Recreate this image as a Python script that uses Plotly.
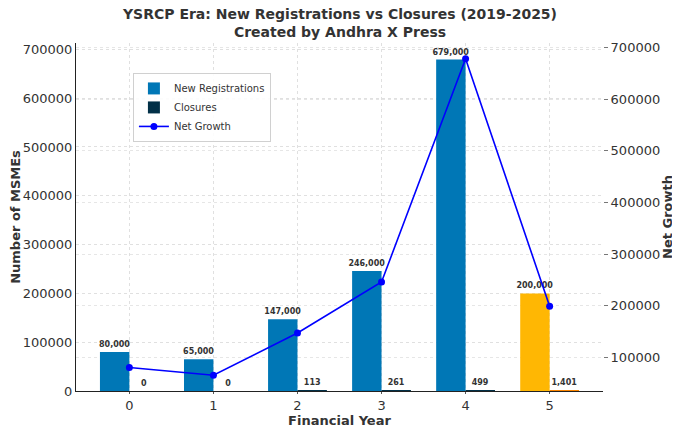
import plotly.graph_objects as go

# Chart data
years = [0, 1, 2, 3, 4, 5]
new_registrations = [80000, 65000, 147000, 246000, 679000, 200000]
closures = [0, 0, 113, 261, 499, 1401]
net_growth = [n - c for n, c in zip(new_registrations, closures)]

# Colours (last year highlighted)
NEW_COLORS = ['#0077B6'] * 5 + ['#FFB703']
CLOSE_COLORS = ['#023047'] * 5 + ['#FB8500']
TEXT = '#333333'
FONT = 'DejaVu Sans'

fig = go.Figure()

fig.add_trace(go.Bar(
    x=years, y=new_registrations, name='New Registrations',
    width=0.35, offset=-0.35,
    marker=dict(color=NEW_COLORS, line=dict(width=0)),
    texttemplate='<b>%{y:,.0f}</b>', textposition='outside',
    textfont=dict(size=8, color=TEXT, family=FONT),
    constraintext='none', cliponaxis=False,
))

fig.add_trace(go.Bar(
    x=years, y=closures, name='Closures',
    width=0.35, offset=0,
    marker=dict(color=CLOSE_COLORS, line=dict(width=0)),
    texttemplate='<b>%{y:,.0f}</b>', textposition='outside',
    textfont=dict(size=8, color=TEXT, family=FONT),
    constraintext='none', cliponaxis=False,
))

fig.add_trace(go.Scatter(
    x=years, y=net_growth, name='Net Growth', yaxis='y2',
    mode='lines+markers',
    line=dict(color='#0000FF', width=1.6),
    marker=dict(color='#0000FF', size=7),
))

# matplotlib-like autoscale with 5% margins
y_top = max(new_registrations) * 1.05
span = max(net_growth) - min(net_growth)
y2_range = [min(net_growth) - 0.05 * span, max(net_growth) + 0.05 * span]

# page body has an 8px margin, so the figure is made 8px smaller
fig.update_layout(
    width=672, height=424,
    paper_bgcolor='white', plot_bgcolor='white',
    font=dict(family=FONT, color=TEXT, size=13),
    barmode='overlay',
    margin=dict(l=68, r=77, t=35, b=41, autoexpand=False),
    title=dict(
        text='<b>YSRCP Era: New Registrations vs Closures (2019-2025)<br>Created by Andhra X Press</b>',
        x=(340 - 8) / 672, xanchor='center', y=0.974, yanchor='top',
        font=dict(size=14, color=TEXT, family=FONT),
    ),
    xaxis=dict(
        range=[-0.635, 5.635], tickvals=years, automargin=False,
        title=dict(text='<b>Financial Year</b>', font=dict(size=13), standoff=0),
        showgrid=True, gridcolor='#e0e0e0', griddash='dot', gridwidth=1,
        showline=True, linecolor='#222222', linewidth=1.2,
        ticks='outside', ticklen=2, tickcolor='#555555',
        zeroline=False,
    ),
    yaxis=dict(
        range=[0, y_top], dtick=100000, tickformat='d', automargin=False,
        title=dict(text='<b>Number of MSMEs</b>', font=dict(size=13), standoff=2),
        showgrid=True, gridcolor='#e0e0e0', griddash='dot', gridwidth=1,
        showline=True, linecolor='#222222', linewidth=1.2,
        ticks='', zeroline=False,
    ),
    yaxis2=dict(
        overlaying='y', side='right', automargin=False,
        range=y2_range, dtick=100000, tickformat='d',
        title=dict(text='<b>Net Growth</b>', font=dict(size=13), standoff=0),
        showgrid=True, gridcolor='#e6e6e6', griddash='dot', gridwidth=1,
        showline=False, ticks='outside', ticklen=4, tickcolor='#777777',
        zeroline=False,
    ),
    legend=dict(
        x=0.108, y=0.914, xanchor='left', yanchor='top',
        bgcolor='rgba(255,255,255,0.9)', bordercolor='#d0d0d0', borderwidth=1,
        font=dict(size=10, color=TEXT), tracegroupgap=0,
        itemwidth=30,
    ),
)

fig.write_html('out.html')
